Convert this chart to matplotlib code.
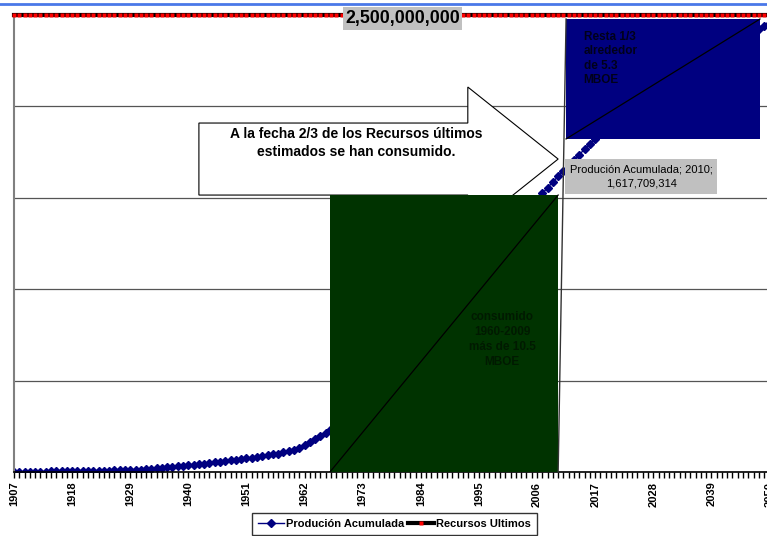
import numpy as np
import matplotlib
matplotlib.use("Agg")
import matplotlib.pyplot as plt
from matplotlib.patches import Polygon, Rectangle
from matplotlib.lines import Line2D

plt.rcParams['font.family'] = ['Liberation Sans', 'DejaVu Sans']

# years shown on the category axis
years = list(range(1907, 2051))

# cumulative production, millions (1967-2009 and 2011-2050 are hidden by boxes)
prod_millions = [
    0.0, 0.4, 0.8, 1.2, 1.6, 2.0, 2.4, 2.8, 3.2, 3.6,            # 1907-1916
    4.0, 4.5, 5.0, 5.5, 6.0, 6.5, 7.0, 7.5, 8.0, 8.5,            # 1917-1926
    9.0, 9.5, 10.0, 11.5, 13.5, 15.5, 17.5, 20, 22.5, 25,        # 1927-1936
    28, 31, 34, 37, 40, 43, 46, 49, 52.5, 56,                    # 1937-1946
    59.5, 63, 66.5, 70, 74, 78, 82, 86.5, 91, 96,                # 1947-1956
    101, 108, 115, 122, 132, 146, 162, 180, 198, 216,            # 1957-1966
    236, 258, 282, 308, 336, 366, 398, 431, 464, 498,            # 1967-1976
    533, 569, 605, 640, 674, 707, 740, 773, 806, 839,            # 1977-1986
    872, 905, 938, 971, 1004, 1037, 1070, 1103, 1136, 1169,      # 1987-1996
    1202, 1235, 1268, 1301, 1334, 1367, 1399, 1431, 1462, 1493,  # 1997-2006
    1524, 1555, 1587, 1617.709314, 1648.2, 1678.2, 1707.7, 1736.7, 1765.2, 1793.2,  # 2007-2016
    1820.7, 1847.7, 1874.2, 1900.2, 1925.7, 1950.7, 1975.2, 1999.2, 2022.7, 2045.7,  # 2017-2026
    2068.2, 2090.2, 2111.7, 2132.7, 2153.2, 2173.2, 2192.7, 2211.7, 2230.2, 2248.2,  # 2027-2036
    2265.7, 2282.7, 2299.2, 2315.2, 2330.7, 2345.7, 2360.2, 2374.2, 2387.7, 2400.7,  # 2037-2046
    2413.2, 2425.2, 2438.7, 2451.7,                              # 2047-2050
]
prod = np.array(prod_millions) * 1e6

# ultimate resources, flat
recursos_total = 2500000000
recursos = [recursos_total] * len(years)

label_years = list(range(1907, 2051, 11))
grid_levels = [0, 500000000, 1000000000, 1500000000, 2000000000, 2500000000]

W, H = 767, 536
fig = plt.figure(figsize=(W / 100, H / 100), dpi=100)
fig.patch.set_facecolor('white')

# plot area: 1907 at x=14 px, bottom at y=472 px, top at y=15 px
x0, x1 = 1907, 2051
ax = fig.add_axes([14 / W, (H - 472) / H, (144 * 5.283) / W, (472 - 15) / H])
ax.set_xlim(x0, x1)
ax.set_ylim(0, recursos_total)

ax.plot(years, prod, color='#000080', lw=1, marker='D', ms=3.6,
        mfc='#000080', mec='#000080', zorder=2, label='Produción Acumulada')
ax.plot(years, recursos, color='black', lw=3, marker='s', ms=2.5,
        mfc='red', mec='none', zorder=6, clip_on=False, label='Recursos Ultimos')

# axes styling
for s in ['top', 'right']:
    ax.spines[s].set_visible(False)
ax.spines['left'].set_color('#808080')
ax.spines['left'].set_linewidth(1.5)
ax.spines['bottom'].set_color('black')
ax.spines['bottom'].set_linewidth(1.2)
ax.set_yticks(grid_levels)
ax.set_yticklabels([])
ax.tick_params(axis='y', length=0)
ax.yaxis.grid(True, color='#555555', lw=0.9)
ax.set_axisbelow(True)

ax.set_xticks(label_years)
ax.set_xticklabels([str(y) for y in label_years], rotation=90, fontweight='bold', fontsize=8)
ax.set_xticks(years, minor=True)
ax.tick_params(axis='x', which='both', direction='out', length=4, width=1, color='black', pad=3)

# block arrow (white fill)
arrow = Polygon([(1942.0, 1.909e9), (1992.9, 1.909e9), (1992.9, 2.106e9), (2010.0, 1.712e9),
                 (1992.9, 1.318e9), (1992.9, 1.515e9), (1942.0, 1.515e9)],
                closed=True, facecolor='white', edgecolor='black', lw=0.8, zorder=3)
ax.add_patch(arrow)
ax.text(1971.7, 1.80e9, 'A la fecha 2/3 de los Recursos últimos\nestimados se han consumido.',
        ha='center', va='center', fontsize=10, fontweight='bold', linespacing=1.3, zorder=3.5)

# green box: consumed
g_left, g_right, g_top = 1966.8, 2010.0, 1.515e9
ax.add_patch(Rectangle((g_left, 0), g_right - g_left, g_top, facecolor='#003300',
                       edgecolor='none', zorder=4, clip_on=False))
ax.plot([g_left, g_right], [0, g_top], color='black', lw=0.9, zorder=4.1)
ax.text(1999.4, 0.725e9, 'consumido\n1960-2009\nmás de 10.5\nMBOE', ha='center', va='center',
        fontsize=8.5, fontweight='bold', color='#001a00', linespacing=1.3, zorder=4.2)

# blue box: remaining
b_left, b_right, b_bot, b_top = 2011.5, 2048.2, 1.822e9, 2.478e9
ax.add_patch(Rectangle((b_left, b_bot), b_right - b_left, b_top - b_bot, facecolor='#000080',
                       edgecolor='none', zorder=4))
ax.plot([b_left, b_right], [b_bot, b_top], color='black', lw=0.9, zorder=4.1)
ax.text(2014.8, 2.262e9, 'Resta 1/3\nalrededor\nde 5.3\nMBOE', ha='left', va='center',
        fontsize=8.5, fontweight='bold', color='#00001a', linespacing=1.25, zorder=4.2)

# callout leader line
ax.plot([2011.5, 2010.0], [2.478e9, 0], color='#333333', lw=1, zorder=4.3, clip_on=False)

# data label for 2010
ax.add_patch(Rectangle((2011.3, 1.521e9), 28.8, 0.191e9, facecolor='#c0c0c0',
                       edgecolor='none', zorder=5))
ax.text(2025.7, 1.617e9, 'Produción Acumulada; 2010;\n1,617,709,314', ha='center', va='center',
        fontsize=8, linespacing=1.45, zorder=5.1)

# label for ultimate resources
ax.add_patch(Rectangle((1969.3, 2.418e9), 22.5, 0.126e9, facecolor='#c0c0c0',
                       edgecolor='none', zorder=7, clip_on=False))
ax.text(1980.5, 2.481e9, '2,500,000,000', ha='center', va='center', fontsize=12.8,
        fontweight='bold', zorder=7.1, clip_on=False)

# blue rule at the very top
fig.add_artist(Line2D([0, 1], [1 - 3.5 / H, 1 - 3.5 / H], color='#4a78e8', lw=2))

# legend
handles = [
    Line2D([], [], color='#000080', lw=1, marker='D', ms=4, mfc='#000080', mec='#000080'),
    Line2D([], [], color='black', lw=3, marker='s', ms=2.5, mfc='red', mec='none'),
]
leg = fig.legend(handles, ['Produción Acumulada', 'Recursos Ultimos'], loc='upper left',
                 bbox_to_anchor=(252 / W, 1 - 513 / H), ncol=2, frameon=True, fancybox=False,
                 prop={'weight': 'bold', 'size': 8}, handlelength=2.3, handletextpad=0.25,
                 columnspacing=0.3, borderpad=0.55, borderaxespad=0)
leg.get_frame().set_edgecolor('black')
leg.get_frame().set_linewidth(1)

fig.savefig('out.png', dpi=100)
